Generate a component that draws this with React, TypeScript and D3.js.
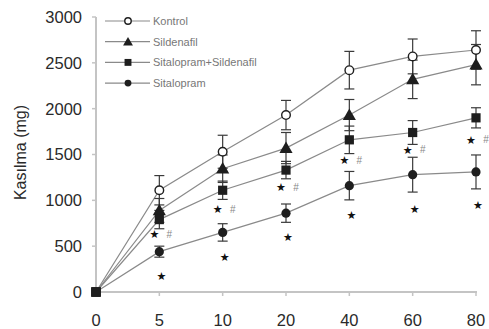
import React from 'react';
import * as d3 from 'd3';

// zaman noktalari (dk) ve gruplar
const categories = ['0', '5', '10', '20', '40', '60', '80'];
const yTicks = [0, 500, 1000, 1500, 2000, 2500, 3000];

const kontrol = [0, 1110, 1530, 1930, 2420, 2570, 2640];
const kontrolErr = [0, 160, 180, 160, 205, 190, 210];
const sildenafil = [0, 890, 1345, 1570, 1930, 2320, 2480];
const sildenafilErr = [0, 130, 150, 170, 170, 210, 220];
const kombine = [0, 790, 1110, 1330, 1660, 1740, 1900];
const kombineErr = [0, 100, 100, 95, 150, 130, 110];
const sitalopram = [0, 440, 650, 860, 1160, 1280, 1310];
const sitalopramErr = [0, 60, 95, 100, 155, 190, 185];

// anlamlilik isaretleri (veri birimi cinsinden yukseklik)
const starHashLevel = [null, 630, 900, 1140, 1440, 1550, 1660];
const starLevel = [null, 170, 385, 600, 840, 906, 950];

const series = [
    { name: 'Kontrol', values: kontrol, err: kontrolErr, marker: 'openCircle' },
    { name: 'Sildenafil', values: sildenafil, err: sildenafilErr, marker: 'triangle' },
    { name: 'Sitalopram+Sildenafil', values: kombine, err: kombineErr, marker: 'square' },
    { name: 'Sitalopram', values: sitalopram, err: sitalopramErr, marker: 'circle' },
];

const W = 489;
const H = 329;
const margin = { top: 17, right: 13, bottom: 37, left: 96 };

const Marker: React.FC<{ type: string; x: number; y: number; s?: number }> = ({ type, x, y, s = 1 }) => {
    const ink = '#1e1e1e';
    if (type === 'openCircle')
        return <circle cx={x} cy={y} r={4.3 * s} fill="#fff" stroke={ink} strokeWidth={1.4} />;
    if (type === 'circle') return <circle cx={x} cy={y} r={4.6 * s} fill={ink} />;
    if (type === 'square') {
        const h = 4.6 * s;
        return <rect x={x - h} y={y - h} width={2 * h} height={2 * h} fill={ink} />;
    }
    const sym = d3.symbol().type(d3.symbolTriangle).size(75 * s * s)();
    return <path d={sym || ''} transform={`translate(${x},${y + 1})`} fill={ink} />;
};

export default function App() {
    const x = d3
        .scalePoint<string>()
        .domain(categories)
        .range([margin.left, W - margin.right]);
    const y = d3
        .scaleLinear()
        .domain([0, 3000])
        .range([H - margin.bottom, margin.top]);

    const line = d3
        .line<number>()
        .x((_, i) => x(categories[i])!)
        .y((d) => y(d));

    const axisColor = '#c4c4c4';
    const labelColor = '#2a2a2a';
    const font = 'Liberation Sans, Arial, sans-serif';
    const y0 = y(0);

    return (
        <svg
            width={W}
            height={H}
            style={{ position: 'absolute', left: 0, top: 0, background: '#fff' }}
            fontFamily={font}
        >
            {/* eksenler */}
            <line x1={margin.left} x2={margin.left} y1={y(3000)} y2={y0 + 1} stroke={axisColor} strokeWidth={2} />
            <line x1={margin.left} x2={x('80')! + 1} y1={y0} y2={y0} stroke={axisColor} strokeWidth={2} />
            {yTicks.map((t) => (
                <g key={t}>
                    <line x1={margin.left - 4} x2={margin.left} y1={y(t)} y2={y(t)} stroke={axisColor} strokeWidth={1.5} />
                    <text x={margin.left - 14} y={y(t)} dy="0.36em" textAnchor="end" fontSize={16.5} fill={labelColor}>
                        {t}
                    </text>
                </g>
            ))}
            {categories.map((c) => (
                <g key={c}>
                    <line x1={x(c)} x2={x(c)} y1={y0} y2={y0 + 4} stroke={axisColor} strokeWidth={1.5} />
                    <text x={x(c)} y={326} textAnchor="middle" fontSize={16.5} fill={labelColor}>
                        {c}
                    </text>
                </g>
            ))}
            <text
                transform={`translate(20,${(margin.top + y0) / 2 - 2}) rotate(-90)`}
                dy="0.36em"
                textAnchor="middle"
                fontSize={16}
                fill={labelColor}
            >
                Kasılma (mg)
            </text>

            {/* cizgiler */}
            {series.map((s) => (
                <path key={s.name} d={line(s.values) || ''} fill="none" stroke="#8a8a8a" strokeWidth={1.2} />
            ))}

            {/* hata cubuklari */}
            {series.map((s) =>
                s.values.map((v, i) => {
                    const e = s.err[i];
                    if (!e) return null;
                    const cx = x(categories[i])!;
                    return (
                        <g key={s.name + i} stroke="#3a3a3a" strokeWidth={1.2}>
                            <line x1={cx} x2={cx} y1={y(v + e)} y2={y(v - e)} />
                            <line x1={cx - 5} x2={cx + 5} y1={y(v + e)} y2={y(v + e)} />
                            <line x1={cx - 5} x2={cx + 5} y1={y(v - e)} y2={y(v - e)} />
                        </g>
                    );
                }),
            )}

            {/* isaretler */}
            {series.map((s) =>
                s.values.map((v, i) => (
                    <Marker key={s.name + 'm' + i} type={i === 0 ? 'square' : s.marker} x={x(categories[i])!} y={y(v)} />
                )),
            )}

            {/* anlamlilik */}
            {categories.map((c, i) => {
                const a = starHashLevel[i];
                const b = starLevel[i];
                const cx = x(c)!;
                return (
                    <g key={'sig' + c}>
                        {a !== null && (
                            <>
                                <text x={cx - 5} y={y(a)} dy="0.35em" textAnchor="middle" fontSize={11} fill="#111" fontFamily="DejaVu Sans">
                                    ★
                                </text>
                                <text x={cx + 10} y={y(a)} dy="0.35em" textAnchor="middle" fontSize={10} fill="#888">
                                    #
                                </text>
                            </>
                        )}
                        {b !== null && (
                            <text x={cx + 2} y={y(b)} dy="0.35em" textAnchor="middle" fontSize={11} fill="#111" fontFamily="DejaVu Sans">
                                ★
                            </text>
                        )}
                    </g>
                );
            })}

            {/* lejant */}
            {series.map((s, i) => {
                const ly = 21 + i * 20.7;
                return (
                    <g key={'leg' + s.name}>
                        <line x1={105} x2={150} y1={ly} y2={ly} stroke="#8a8a8a" strokeWidth={1.2} />
                        <Marker type={s.marker} x={128} y={ly} s={0.75} />
                        <text x={153} y={ly} dy="0.35em" fontSize={11} fill="#777">
                            {s.name}
                        </text>
                    </g>
                );
            })}
        </svg>
    );
}
